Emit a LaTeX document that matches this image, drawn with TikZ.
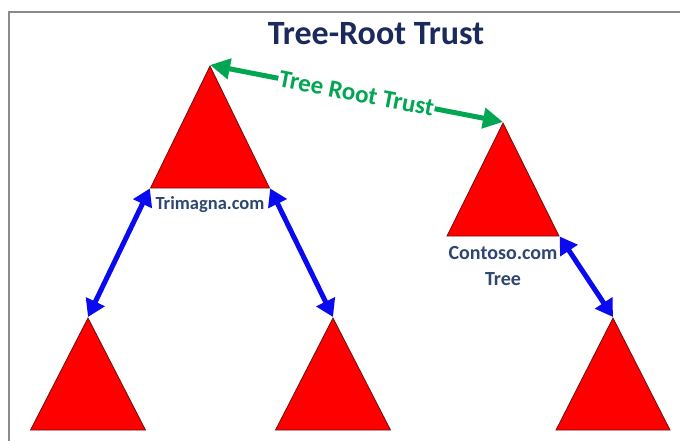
\documentclass[tikz,border=0pt]{standalone}
\usepackage{fontspec}
\setmainfont{Carlito}
\usetikzlibrary{shapes.geometric,arrows.meta}
\definecolor{titleblue}{HTML}{1B2A5C}
\definecolor{labelblue}{HTML}{2E4770}
\definecolor{trustgreen}{HTML}{00A651}
\definecolor{linkblue}{HTML}{0A0AF0}
\definecolor{treered}{HTML}{FF0000}
\definecolor{treeedge}{HTML}{6B1010}
\definecolor{framegray}{HTML}{8A8A8A}
\begin{document}
\begin{tikzpicture}[x=1pt,y=-1pt,
  tree/.style={isosceles triangle, isosceles triangle stretches,
    shape border rotate=90, fill=treered, draw=treeedge,
    line width=0.8pt, inner sep=0pt, anchor=apex},
  link/.style={draw=linkblue, line width=5pt,
    {Triangle[length=17pt,width=20pt]}-{Triangle[length=17pt,width=20pt]}},
  trust/.style={draw=trustgreen, line width=5pt,
    {Triangle[length=20pt,width=20pt]}-{Triangle[length=20pt,width=20pt]}},
  lbl/.style={text=labelblue, font=\bfseries\fontsize{18.5}{26}\selectfont,
    inner sep=1pt, align=center}
]
\useasboundingbox (0,0) rectangle (680,441);
\fill[white] (0,0) rectangle (680,441);
% frame edges along the top and left
\draw[framegray, line width=2.2pt] (9,460) -- (9,12) -- (700,12);

% title
\node[text=titleblue, font=\bfseries\fontsize{34}{40}\selectfont] (title) at (376,34) {Tree-Root Trust};

% domain trees
\node[tree, minimum width=119pt, minimum height=122pt] (trim) at (210,65) {};
\node[tree, minimum width=112pt, minimum height=113pt] (cont) at (503,122) {};
\node[tree, minimum width=115pt, minimum height=112pt] (childa) at (88,317) {};
\node[tree, minimum width=115pt, minimum height=112pt] (childb) at (333,317) {};
\node[tree, minimum width=114pt, minimum height=112pt] (childc) at (613,317) {};

% tree labels
\node[lbl] (trimlbl) at (210,205) {Trimagna.com};
\node[lbl, font=\bfseries\fontsize{20}{26}\selectfont] (contlbl) at (503,266) {Contoso.com\\Tree};

% parent-child trusts
\draw[link] (trim.left corner) -- (childa.apex);
\draw[link] (trim.right corner) -- (childb.apex);
\draw[link] (cont.right corner) -- (childc.apex);

% tree-root trust between forest trees
\draw[trust] (trim.apex) -- node[sloped, fill=white, inner sep=1pt,
  text=trustgreen, font=\bfseries\fontsize{25}{30}\selectfont] (trustlbl) {Tree Root Trust} (cont.apex);
\end{tikzpicture}
\end{document}
